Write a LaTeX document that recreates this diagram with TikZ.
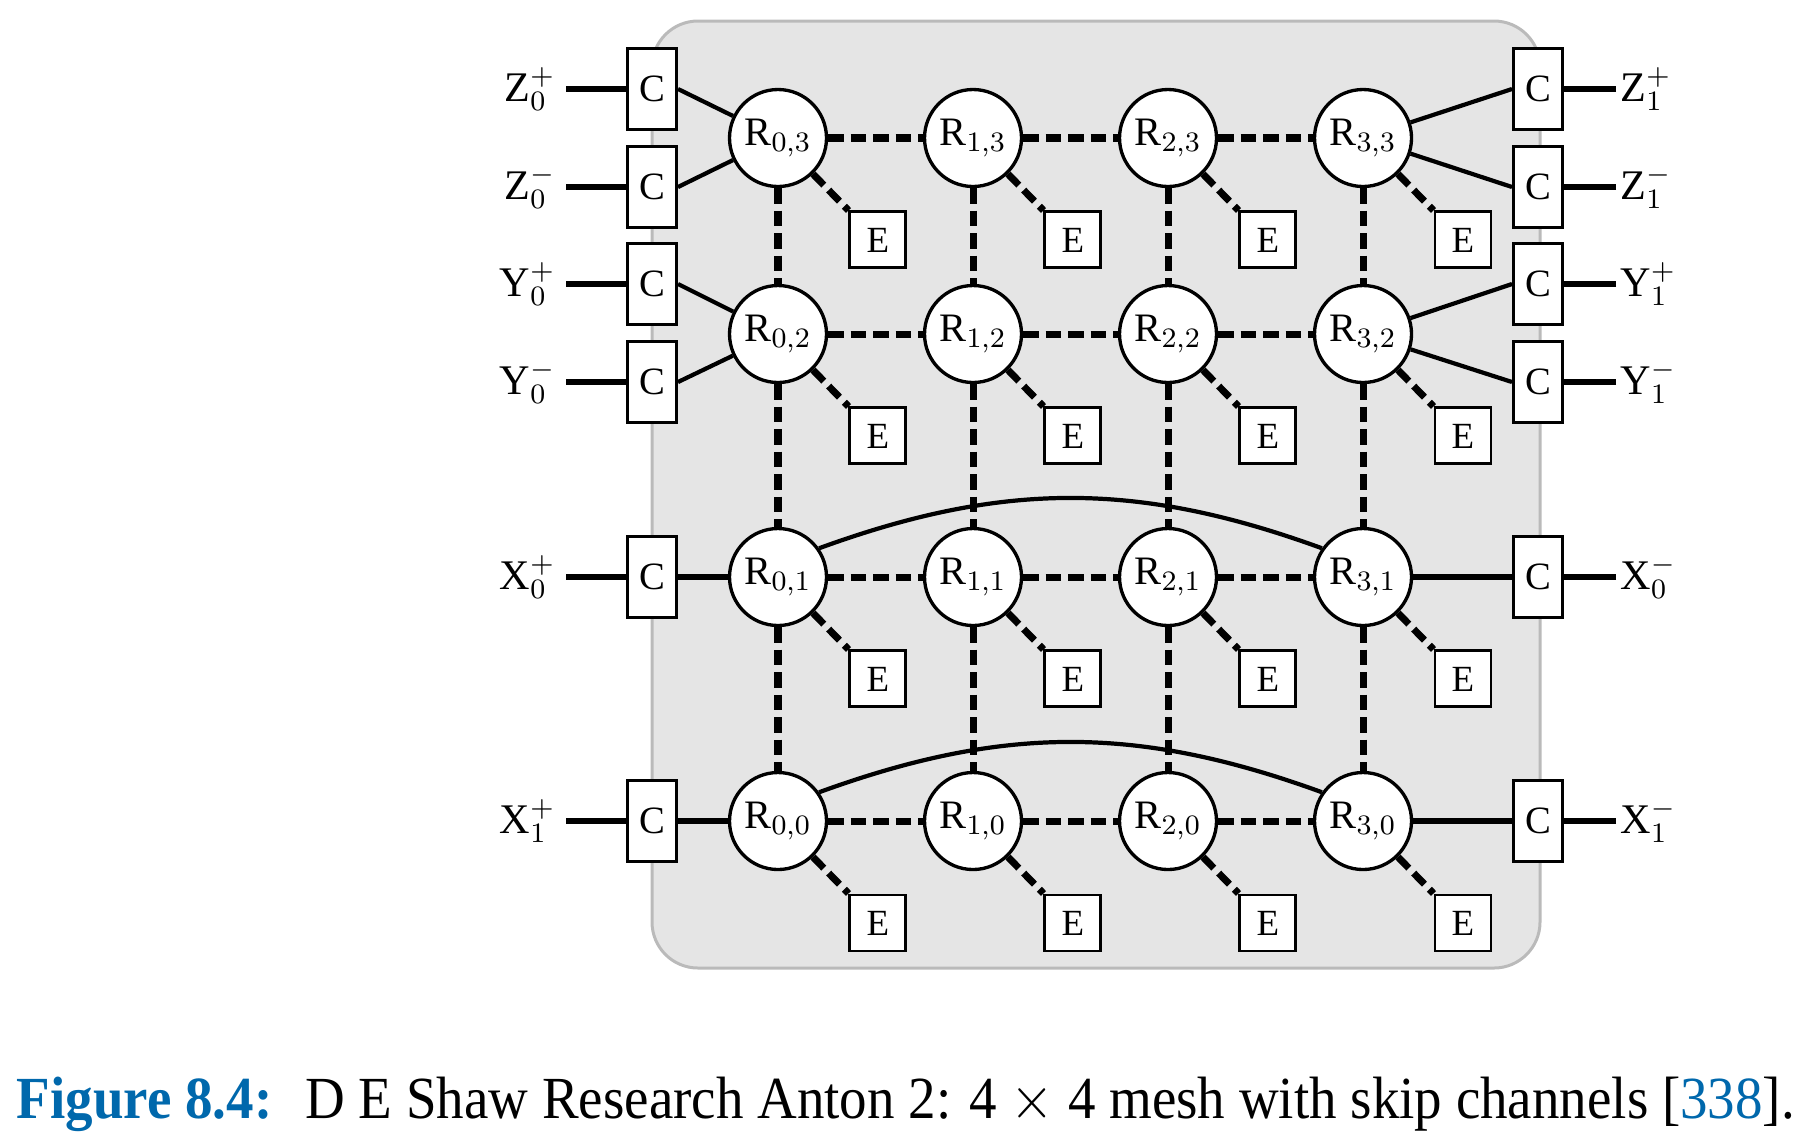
\documentclass[tikz,border=0pt]{standalone}
\usepackage{fontspec}
\setmainfont{Liberation Serif}
\usetikzlibrary{
		calc,
		positioning
	}
\definecolor{capblue}{RGB}{0,104,172}
\tikzset{
		>=stealth
	}

\begin{document}
\begin{tikzpicture}[x=0.1mm, y=-0.1mm,
		router/.style={draw, circle, line width=0.95pt, fill=white, minimum size=9.7mm, inner sep=0pt, font=\fontsize{11.5}{13}\selectfont},
		endp/.style={draw, line width=0.85pt, fill=white, minimum size=5.6mm, inner sep=0pt, font=\fontsize{10.5}{12}\selectfont},
		chan/.style={draw, line width=0.85pt, fill=white, minimum width=4.9mm, minimum height=8.1mm, inner sep=0pt, font=\fontsize{11}{12}\selectfont},
		lbl/.style={inner sep=1mm, font=\fontsize{12}{14}\selectfont},
		mesh/.style={line width=2pt, dash pattern=on 4.4pt off 2pt},
		wire/.style={line width=1.2pt},
		port/.style={line width=1.8pt}]
		\useasboundingbox (0,0) rectangle (1809,1147);
		\draw[line width=0.85pt, draw=black!27, fill=black!10, rounded corners=4.6mm] (652,21) rectangle (1540,968); % chip outline
		% routers and endpoints
		\foreach \i/\x in {0/778,1/973,2/1168,3/1363}
		\foreach \j/\y in {0/821,1/577,2/334,3/138} {
			\node[router] (r\i\j) at (\x,\y) {R$_{\i,\j}$};
			\node[endp, below right=3.7mm and 3.5mm of r\i\j] (e\i\j) {E};
			\draw[mesh] (r\i\j) -- (e\i\j.north west);
		}
		% mesh links
		\foreach \a/\b in {0/1,1/2,2/3}
		\foreach \k in {0,1,2,3} {
			\draw[mesh] (r\a\k) -- (r\b\k);
			\draw[mesh] (r\k\b) -- (r\k\a);
		}
		% skip channels
		\draw[wire] (r01.35) to[out=20, in=160] (r31.145);
		\draw[wire] (r00.35) to[out=20, in=160] (r30.145);
		% channel adapters, left
		\node[chan] (cz0p) at (652,89) {C};
		\node[chan] (cz0m) at (652,187) {C};
		\node[chan] (cy0p) at (652,284) {C};
		\node[chan] (cy0m) at (652,382) {C};
		\node[chan] (cx0p) at (652,577) {C};
		\node[chan] (cx1p) at (652,821) {C};
		% channel adapters, right
		\node[chan] (cz1p) at (1538,89) {C};
		\node[chan] (cz1m) at (1538,187) {C};
		\node[chan] (cy1p) at (1538,284) {C};
		\node[chan] (cy1m) at (1538,382) {C};
		\node[chan] (cx0m) at (1538,577) {C};
		\node[chan] (cx1m) at (1538,821) {C};
		% port labels
		\node[lbl, left=6mm of cz0p] (lz0p) {Z$_0^+$};
		\node[lbl, left=6mm of cz0m] (lz0m) {Z$_0^-$};
		\node[lbl, left=6mm of cy0p] (ly0p) {Y$_0^+$};
		\node[lbl, left=6mm of cy0m] (ly0m) {Y$_0^-$};
		\node[lbl, left=6mm of cx0p] (lx0p) {X$_0^+$};
		\node[lbl, left=6mm of cx1p] (lx1p) {X$_1^+$};
		\node[lbl, inner sep=0.4mm, right=5.2mm of cz1p] (lz1p) {Z$_1^+$};
		\node[lbl, inner sep=0.4mm, right=5.2mm of cz1m] (lz1m) {Z$_1^-$};
		\node[lbl, inner sep=0.4mm, right=5.2mm of cy1p] (ly1p) {Y$_1^+$};
		\node[lbl, inner sep=0.4mm, right=5.2mm of cy1m] (ly1m) {Y$_1^-$};
		\node[lbl, inner sep=0.4mm, right=5.2mm of cx0m] (lx0m) {X$_0^-$};
		\node[lbl, inner sep=0.4mm, right=5.2mm of cx1m] (lx1m) {X$_1^-$};
		\foreach \p in {z0p,z0m,y0p,y0m,x0p,x1p,z1p,z1m,y1p,y1m,x0m,x1m}
		\draw[port] (l\p) -- (c\p);
		% adapters to routers
		\draw[wire] (cz0p.east) -- (r03);
		\draw[wire] (cz0m.east) -- (r03);
		\draw[wire] (cy0p.east) -- (r02);
		\draw[wire] (cy0m.east) -- (r02);
		\draw[port] (cx0p) -- (r01);
		\draw[port] (cx1p) -- (r00);
		\draw[wire] (r33) -- (cz1p.west);
		\draw[wire] (r33) -- (cz1m.west);
		\draw[wire] (r32) -- (cy1p.west);
		\draw[wire] (r32) -- (cy1m.west);
		\draw[port] (r31) -- (cx0m);
		\draw[port] (r30) -- (cx1m);
		% caption
		\node[anchor=base, inner sep=0pt, font=\fontsize{17}{20}\selectfont] (cap) at (906,1118) {\resizebox{177.8mm}{\height}{\textcolor{capblue}{\textbf{Figure 8.4:}}\hspace{0.6em}D E Shaw Research Anton 2: 4 $\times$ 4 mesh with skip channels [\textcolor{capblue}{338}].}};
	\end{tikzpicture}
\end{document}
